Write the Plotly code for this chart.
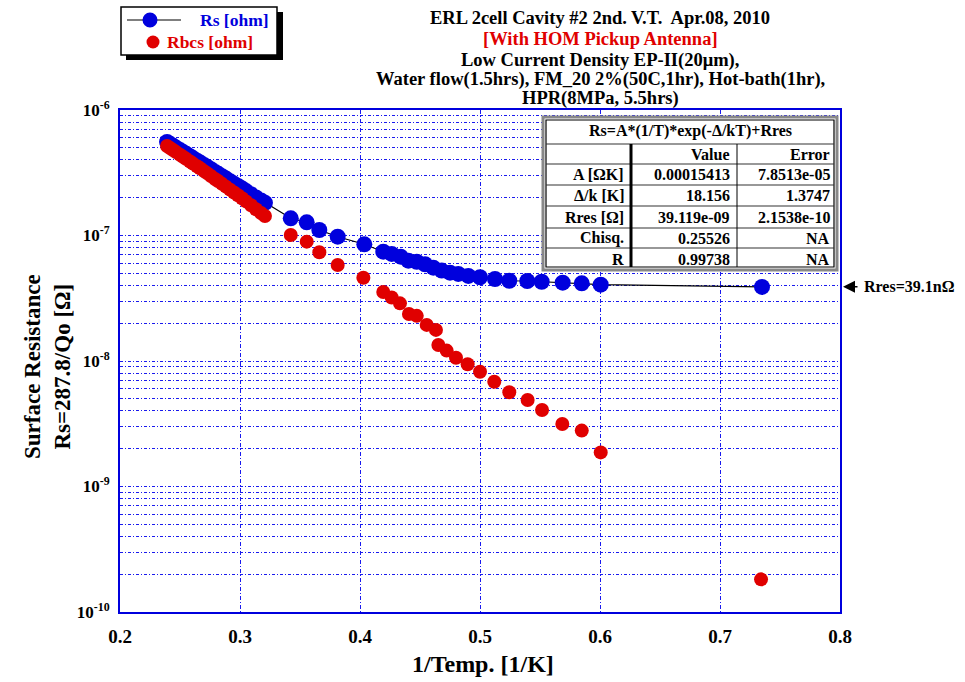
import math
import plotly.graph_objects as go

# ---------------- data ----------------
rs_x = [0.2392, 0.2417, 0.2442, 0.2467, 0.2500, 0.2525, 0.2550, 0.2583, 0.2608, 0.2642,
        0.2667, 0.2700, 0.2725, 0.2758, 0.2792, 0.2817, 0.2850, 0.2883, 0.2917, 0.2950,
        0.2983, 0.3017, 0.3050, 0.3092, 0.3133, 0.3175, 0.3208,
        0.3423, 0.3556, 0.3661, 0.3814, 0.4036, 0.4194, 0.4264, 0.4339, 0.4403, 0.4473,
        0.4542, 0.4611, 0.4681, 0.4750, 0.4819, 0.4903, 0.5000, 0.5125, 0.5244, 0.5394,
        0.5514, 0.5689, 0.5848, 0.6006, 0.7350]
rs_y = [5.56e-7, 5.37e-7, 5.20e-7, 5.01e-7, 4.79e-7, 4.63e-7, 4.48e-7, 4.28e-7, 4.13e-7, 3.95e-7,
        3.82e-7, 3.65e-7, 3.53e-7, 3.37e-7, 3.21e-7, 3.11e-7, 2.97e-7, 2.84e-7, 2.71e-7, 2.59e-7,
        2.48e-7, 2.37e-7, 2.26e-7, 2.13e-7, 2.01e-7, 1.90e-7, 1.82e-7,
        1.371e-7, 1.274e-7, 1.106e-7, 9.78e-8, 8.51e-8, 7.43e-8, 7.13e-8, 6.78e-8, 6.30e-8, 6.18e-8,
        5.90e-8, 5.54e-8, 5.25e-8, 5.06e-8, 4.94e-8, 4.76e-8, 4.65e-8, 4.50e-8, 4.36e-8, 4.34e-8,
        4.28e-8, 4.21e-8, 4.16e-8, 4.06e-8, 3.89e-8]

rbcs_x = [0.2392, 0.2417, 0.2442, 0.2467, 0.2500, 0.2525, 0.2550, 0.2583, 0.2608, 0.2642,
          0.2667, 0.2700, 0.2725, 0.2758, 0.2792, 0.2817, 0.2850, 0.2883, 0.2917, 0.2950,
          0.2983, 0.3017, 0.3050, 0.3092, 0.3133, 0.3175, 0.3208,
          0.3423, 0.3556, 0.3661, 0.3814, 0.4028, 0.4194, 0.4264, 0.4333, 0.4408, 0.4473,
          0.4556, 0.4633, 0.4653, 0.4722, 0.4800, 0.4897, 0.5000, 0.5119, 0.5244, 0.5397,
          0.5517, 0.5686, 0.5848, 0.6006, 0.7342]
rbcs_y = [5.17e-7, 4.98e-7, 4.80e-7, 4.62e-7, 4.40e-7, 4.24e-7, 4.09e-7, 3.89e-7, 3.74e-7, 3.56e-7,
          3.43e-7, 3.26e-7, 3.14e-7, 2.98e-7, 2.82e-7, 2.72e-7, 2.58e-7, 2.45e-7, 2.32e-7, 2.20e-7,
          2.09e-7, 1.98e-7, 1.87e-7, 1.74e-7, 1.62e-7, 1.51e-7, 1.43e-7,
          1.009e-7, 8.93e-8, 7.35e-8, 5.82e-8, 4.61e-8, 3.55e-8, 3.21e-8, 2.88e-8, 2.37e-8, 2.29e-8,
          1.94e-8, 1.77e-8, 1.34e-8, 1.21e-8, 1.06e-8, 9.41e-9, 8.22e-9, 6.84e-9, 5.63e-9, 4.89e-9,
          4.07e-9, 3.15e-9, 2.79e-9, 1.87e-9, 1.82e-10]

series_names = ["Rs [ohm]", "Rbcs [ohm]"]
x_ticks = [0.2, 0.3, 0.4, 0.5, 0.6, 0.7, 0.8]
y_decades = [-10, -9, -8, -7, -6]

title_lines = [
    ("ERL 2cell Cavity #2 2nd. V.T.  Apr.08, 2010", "black"),
    ("[With HOM Pickup Antenna]", "#e00000"),
    ("Low Current Density EP-II(20\u03bcm),", "black"),
    ("Water flow(1.5hrs), FM_20 2%(50C,1hr), Hot-bath(1hr),", "black"),
    ("HPR(8MPa, 5.5hrs)", "black"),
]

table_title = "Rs=A*(1/T)*exp(-\u0394/kT)+Rres"
table_rows = [
    ["", "Value", "Error"],
    ["A [\u03a9K]", "0.00015413", "7.8513e-05"],
    ["\u0394/k [K]", "18.156", "1.3747"],
    ["Rres [\u03a9]", "39.119e-09", "2.1538e-10"],
    ["Chisq.", "0.25526", "NA"],
    ["R", "0.99738", "NA"],
]
rres_label = "Rres=39.1n\u03a9"
rres_value = 39.1e-9

# ---------------- layout helpers ----------------
W, H = 965, 682
L, R, T, B = 120, 840, 110, 612
def PX(x):
    return (x - L) / (R - L)
def PY(y):
    return (B - y) / (B - T)

FONT = "Liberation Serif"
BLUE = "#0000dd"
RED = "#e00000"
GRID = "#1a1aee"

fig = go.Figure()
fig.add_trace(go.Scatter(
    x=rs_x, y=rs_y, mode="lines+markers", name=series_names[0], showlegend=False,
    line=dict(color="black", width=1.2),
    marker=dict(color=BLUE, size=16),
))
fig.add_trace(go.Scatter(
    x=rbcs_x, y=rbcs_y, mode="markers", name=series_names[1], showlegend=False,
    marker=dict(color=RED, size=14),
))

yvals, ytext = [], []
for d in y_decades:
    for m in range(1, 10):
        if d == -6 and m > 1:
            break
        yvals.append(m * 10.0 ** d)
        ytext.append(f"10<sup>{d}</sup>" if m == 1 else "")

fig.update_xaxes(
    range=[0.2, 0.8], tickvals=x_ticks, ticktext=[f"{v:.1f}" for v in x_ticks],
    showgrid=True, gridcolor=GRID, griddash="4px,2px,1px,2px", gridwidth=1.2,
    showline=True, linecolor=BLUE, linewidth=2, mirror=True, zeroline=False,
    ticks="", ticklabelstandoff=6,
    tickfont=dict(family=FONT, size=19, color="black", weight="bold"),
)
fig.update_yaxes(
    type="log", range=[-10, -6], tickvals=yvals, ticktext=ytext,
    showgrid=True, gridcolor=GRID, griddash="3px,2px,1px,2px", gridwidth=1.1,
    showline=True, linecolor=BLUE, linewidth=2, mirror=True, zeroline=False,
    ticks="", ticklabelstandoff=5,
    tickfont=dict(family=FONT, size=17, color="black", weight="bold"),
)

annotations = []
shapes = []

# title lines
for i, (txt, col) in enumerate(title_lines):
    yc = [18, 39, 60, 79, 98][i]
    annotations.append(dict(xref="paper", yref="paper", x=PX(600), y=PY(yc),
                            text=txt, showarrow=False, xanchor="center", yanchor="middle",
                            font=dict(family=FONT, size=18.5, color=col, weight="bold")))

# axis titles
annotations.append(dict(xref="paper", yref="paper", x=PX(483), y=PY(664), text="1/Temp. [1/K]",
                        showarrow=False, xanchor="center", yanchor="middle",
                        font=dict(family=FONT, size=24, color="black", weight="bold")))
annotations.append(dict(xref="paper", yref="paper", x=PX(47), y=PY(367),
                        text="Surface Resistance<br>Rs=287.8/Qo [\u03a9]", textangle=-90,
                        showarrow=False, xanchor="center", yanchor="middle",
                        font=dict(family=FONT, size=23, color="black", weight="bold")))

# Rres marker annotation
annotations.append(dict(xref="paper", yref="y", x=PX(843), y=math.log10(rres_value),
                        ax=16, ay=0, text="", showarrow=True, arrowhead=2, arrowsize=1.6,
                        arrowwidth=1.5, arrowcolor="black", standoff=0))
annotations.append(dict(xref="paper", yref="y", x=PX(862), y=math.log10(rres_value),
                        text=rres_label, showarrow=False, xanchor="left", yanchor="middle",
                        font=dict(family=FONT, size=16, color="black", weight="bold")))

# fit table
tx0, tx1 = 543, 837
ty0, ty1 = 117, 270
row_edges = [117, 144, 164, 185, 206, 228, 248, 270]
col_edges = [543, 631, 737, 837]
shapes.append(dict(type="rect", xref="paper", yref="paper", x0=PX(tx0), x1=PX(tx1),
                   y0=PY(ty1), y1=PY(ty0), fillcolor="white",
                   line=dict(color="#888888", width=3), layer="above"))
shapes.append(dict(type="rect", xref="paper", yref="paper", x0=PX(tx0 + 3), x1=PX(tx1 - 3),
                   y0=PY(ty1 - 3), y1=PY(ty0 + 3), fillcolor="rgba(0,0,0,0)",
                   line=dict(color="black", width=1.2), layer="above"))
for ye in row_edges[1:-1]:
    shapes.append(dict(type="line", xref="paper", yref="paper", x0=PX(tx0 + 3), x1=PX(tx1 - 3),
                       y0=PY(ye), y1=PY(ye), line=dict(color="#333333", width=1.2), layer="above"))
shapes.append(dict(type="line", xref="paper", yref="paper", x0=PX(631), x1=PX(631),
                   y0=PY(144), y1=PY(ty1 - 3), line=dict(color="black", width=3), layer="above"))
shapes.append(dict(type="line", xref="paper", yref="paper", x0=PX(737), x1=PX(737),
                   y0=PY(144), y1=PY(ty1 - 3), line=dict(color="black", width=1), layer="above"))
annotations.append(dict(xref="paper", yref="paper", x=PX((tx0 + tx1) / 2), y=PY(131),
                        text=table_title, showarrow=False, xanchor="center", yanchor="middle",
                        font=dict(family=FONT, size=16, color="black", weight="bold")))
for r, row in enumerate(table_rows):
    yc = (row_edges[r + 1] + row_edges[r + 2]) / 2
    for c, cell in enumerate(row):
        if not cell:
            continue
        annotations.append(dict(xref="paper", yref="paper", x=PX(col_edges[c + 1] - 5), y=PY(yc),
                                text=cell, showarrow=False, xanchor="right", yanchor="middle",
                                font=dict(family=FONT, size=16, color="black", weight="bold")))

# hand-drawn legend box (with shadow) like the original
shapes.append(dict(type="rect", xref="paper", yref="paper", x0=PX(126), x1=PX(283),
                   y0=PY(60), y1=PY(12), fillcolor="black", line=dict(width=0), layer="above"))
shapes.append(dict(type="rect", xref="paper", yref="paper", x0=PX(121), x1=PX(277),
                   y0=PY(55), y1=PY(7), fillcolor="white", line=dict(color="black", width=1.5),
                   layer="above"))
shapes.append(dict(type="line", xref="paper", yref="paper", x0=PX(127), x1=PX(181),
                   y0=PY(20), y1=PY(20), line=dict(color="black", width=1.2), layer="above"))
shapes.append(dict(type="circle", xref="paper", yref="paper", x0=PX(142.5), x1=PX(157.5),
                   y0=PY(27.5), y1=PY(12.5), fillcolor=BLUE, line=dict(width=0), layer="above"))
shapes.append(dict(type="circle", xref="paper", yref="paper", x0=PX(146.5), x1=PX(159.5),
                   y0=PY(48.5), y1=PY(35.5), fillcolor=RED, line=dict(width=0), layer="above"))
annotations.append(dict(xref="paper", yref="paper", x=PX(198), y=PY(20), text=series_names[0],
                        showarrow=False, xanchor="left", yanchor="middle",
                        font=dict(family=FONT, size=17.5, color=BLUE, weight="bold")))
annotations.append(dict(xref="paper", yref="paper", x=PX(165), y=PY(42), text=series_names[1],
                        showarrow=False, xanchor="left", yanchor="middle",
                        font=dict(family=FONT, size=17.5, color=RED, weight="bold")))

fig.update_layout(
    width=W, height=H,
    margin=dict(l=L, r=W - R, t=T, b=H - B),
    paper_bgcolor="white", plot_bgcolor="white",
    showlegend=False,
    annotations=annotations, shapes=shapes,
)

fig.write_html("out.html")
